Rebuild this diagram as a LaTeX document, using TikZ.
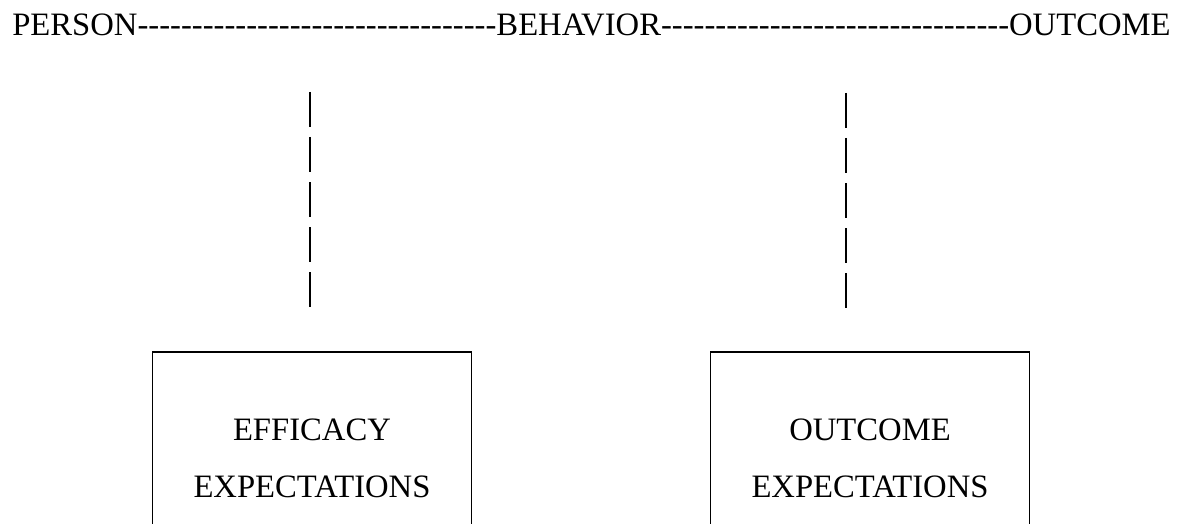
\documentclass[tikz,border=0pt]{standalone}
\usepackage{fontspec}
\setmainfont{Liberation Serif}
\newcount\hycount
\newcommand{\hyrun}[1]{\hycount=0 \loop\ifnum\hycount<#1 -\kern0pt\advance\hycount by 1 \repeat}
\tikzset{
  vdash/.style={line width=1.2pt,dash pattern=on 26.25pt off 7.5pt},
  expbox/.style={draw,line width=1.2pt,minimum width=239pt,minimum height=159pt,align=center,inner sep=0pt,font=\fontsize{24.5}{42.75}\selectfont},
}
\begin{document}
\begin{tikzpicture}[x=0.75pt,y=0.75pt,yscale=-1,xscale=1]
\useasboundingbox (0,0) rectangle (1180,524);
\clip (0,0) rectangle (1180,524);
\node (chain) [anchor=base west,inner sep=0pt,font=\fontsize{24.5}{29}\selectfont] at (12,36) {PERSON\hyrun{33}BEHAVIOR\hyrun{32}OUTCOME};
\coordinate (etop) at (310,92);
\coordinate (ebot) at (310,308);
\coordinate (otop) at (846,93);
\coordinate (obot) at (846,308);
\draw [vdash] (etop) -- (ebot);
\draw [vdash] (otop) -- (obot);
\node (effbox) [expbox] at (312,458) {EFFICACY\\EXPECTATIONS};
\node (outbox) [expbox] at (870,458) {OUTCOME\\EXPECTATIONS};
\end{tikzpicture}
\end{document}
